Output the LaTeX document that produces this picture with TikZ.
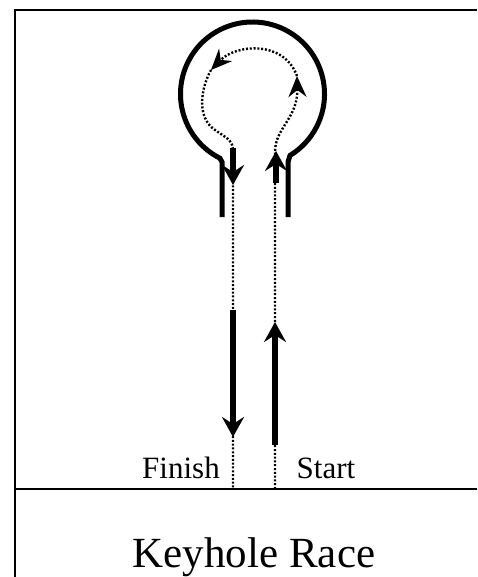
\documentclass[tikz,border=0pt]{standalone}
\usepackage{fontspec}
\setmainfont{Liberation Serif}
\usetikzlibrary{arrows.meta}

\begin{document}
\begin{tikzpicture}[x=1pt, y=-1pt,
  wall/.style={line width=5pt},
  track/.style={line width=2.4pt, dash pattern=on 2pt off 1.8pt},
  turn/.style={track, -{Stealth[length=21pt,width=18pt,inset=7pt]}},
  run/.style={line width=6pt, -{Stealth[length=20pt,width=22pt,inset=7pt]}}]
\useasboundingbox (0,0) rectangle (477,577);
\draw[line width=2.5pt] (15,577) -- (15,10) -- (477,10);
\draw[line width=2.5pt] (15,489) -- (477,489);
% keyhole
\draw[wall] (222,217) -- (222,162) -- ([shift={(116.9:72)}]252.5,94)
  arc[start angle=116.9, end angle=418.6, radius=72] -- (288,162) -- (288,217);
% path of the horse
\coordinate (start) at (275,489);
\coordinate (finish) at (233,489);
\coordinate (right) at (297,76);
\coordinate (left) at (211,70);
\draw[turn] (start) -- (275,152) .. controls (275,128) and (298,118) .. (right);
\draw[turn] (right) .. controls (284,40) and (236,44) .. (left);
\draw[track] (left) .. controls (200,90) and (197,118) .. (215,130)
  .. controls (228,139) and (233,140) .. (233,152) -- (finish);
\draw[run] (233,148) -- (233,185);
\draw[run] (276,183) -- (276,151);
\draw[run] (233,310) -- (233,437);
\draw[run] (275,445) -- (275,322);
% labels
\node[anchor=base, font=\fontsize{31}{31}\selectfont] (finishlabel) at (181,478) {Finish};
\node[anchor=base, font=\fontsize{31}{31}\selectfont] (startlabel) at (326,478) {Start};
\node[anchor=base, font=\fontsize{43}{43}\selectfont] (title) at (254,567) {Keyhole Race};
\end{tikzpicture}
\end{document}
